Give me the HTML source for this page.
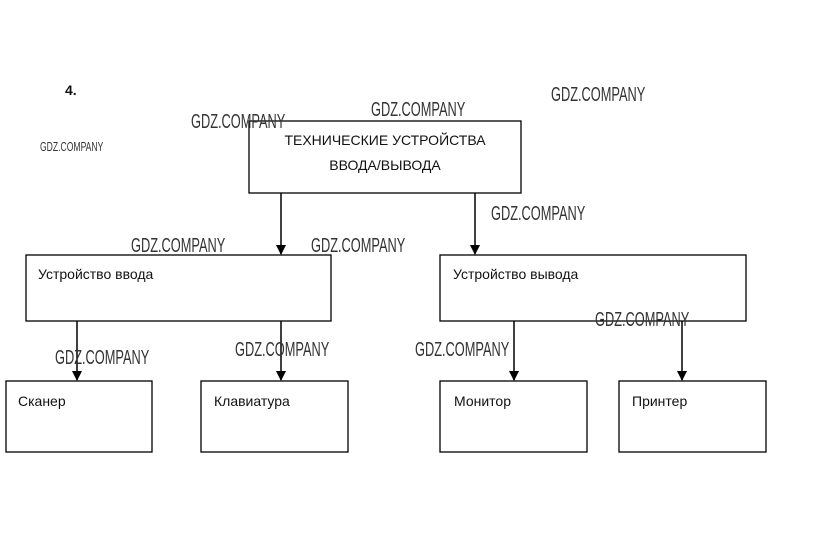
<!DOCTYPE html>
<html><head><meta charset="utf-8"><style>
html,body{margin:0;padding:0;background:#fff;width:823px;height:555px;overflow:hidden}
svg{display:block}
.b{fill:#fff;stroke:#000;stroke-width:1.3}
.t{font-family:"Liberation Sans",sans-serif;font-size:14px;fill:#111}
.w{font-family:"Liberation Sans",sans-serif;font-size:20px;fill:#333}
</style></head><body>
<svg width="823" height="555" viewBox="0 0 823 555">
<defs><marker id="a" markerWidth="10" markerHeight="10" refX="9" refY="5" orient="auto" markerUnits="userSpaceOnUse"><path d="M0,0 L10,5 L0,10 z" fill="#000"/></marker></defs>
<text x="65" y="95" class="t" font-weight="bold" font-size="15">4.</text>
<rect class="b" x="249" y="121" width="272" height="72"/>
<text x="385" y="145" class="t" font-size="15" text-anchor="middle">ТЕХНИЧЕСКИЕ УСТРОЙСТВА</text>
<text x="385" y="170" class="t" font-size="15" text-anchor="middle">ВВОДА/ВЫВОДА</text>
<rect class="b" x="26" y="255" width="305" height="66"/>
<rect class="b" x="440" y="255" width="306" height="66"/>
<text x="38" y="279" class="t">Устройство ввода</text>
<text x="453" y="279" class="t">Устройство вывода</text>
<rect class="b" x="6" y="381" width="146" height="71"/>
<rect class="b" x="201" y="381" width="147" height="71"/>
<rect class="b" x="440" y="381" width="147" height="71"/>
<rect class="b" x="619" y="381" width="147" height="71"/>
<text x="18" y="406" class="t">Сканер</text>
<text x="214" y="406" class="t">Клавиатура</text>
<text x="454" y="406" class="t">Монитор</text>
<text x="632" y="406" class="t">Принтер</text>
<g stroke="#000" stroke-width="1.5" marker-end="url(#a)">
<line x1="281" y1="193" x2="281" y2="254"/>
<line x1="475" y1="193" x2="475" y2="254"/>
<line x1="77" y1="321" x2="77" y2="380"/>
<line x1="281" y1="321" x2="281" y2="380"/>
<line x1="514" y1="321" x2="514" y2="380"/>
<line x1="682" y1="321" x2="682" y2="380"/>
</g>
<g class="w">
<text transform="translate(191,128) scale(0.64,1)">GDZ.COMPANY</text>
<text transform="translate(371,116) scale(0.64,1)">GDZ.COMPANY</text>
<text transform="translate(551,101) scale(0.64,1)">GDZ.COMPANY</text>
<text transform="translate(40,151) scale(0.43,0.65)">GDZ.COMPANY</text>
<text transform="translate(491,220) scale(0.64,1)">GDZ.COMPANY</text>
<text transform="translate(131,252) scale(0.64,1)">GDZ.COMPANY</text>
<text transform="translate(311,252) scale(0.64,1)">GDZ.COMPANY</text>
<text transform="translate(595,326) scale(0.64,1)">GDZ.COMPANY</text>
<text transform="translate(55,364) scale(0.64,1)">GDZ.COMPANY</text>
<text transform="translate(235,356) scale(0.64,1)">GDZ.COMPANY</text>
<text transform="translate(415,356) scale(0.64,1)">GDZ.COMPANY</text>
</g>
</svg>
</body></html>
